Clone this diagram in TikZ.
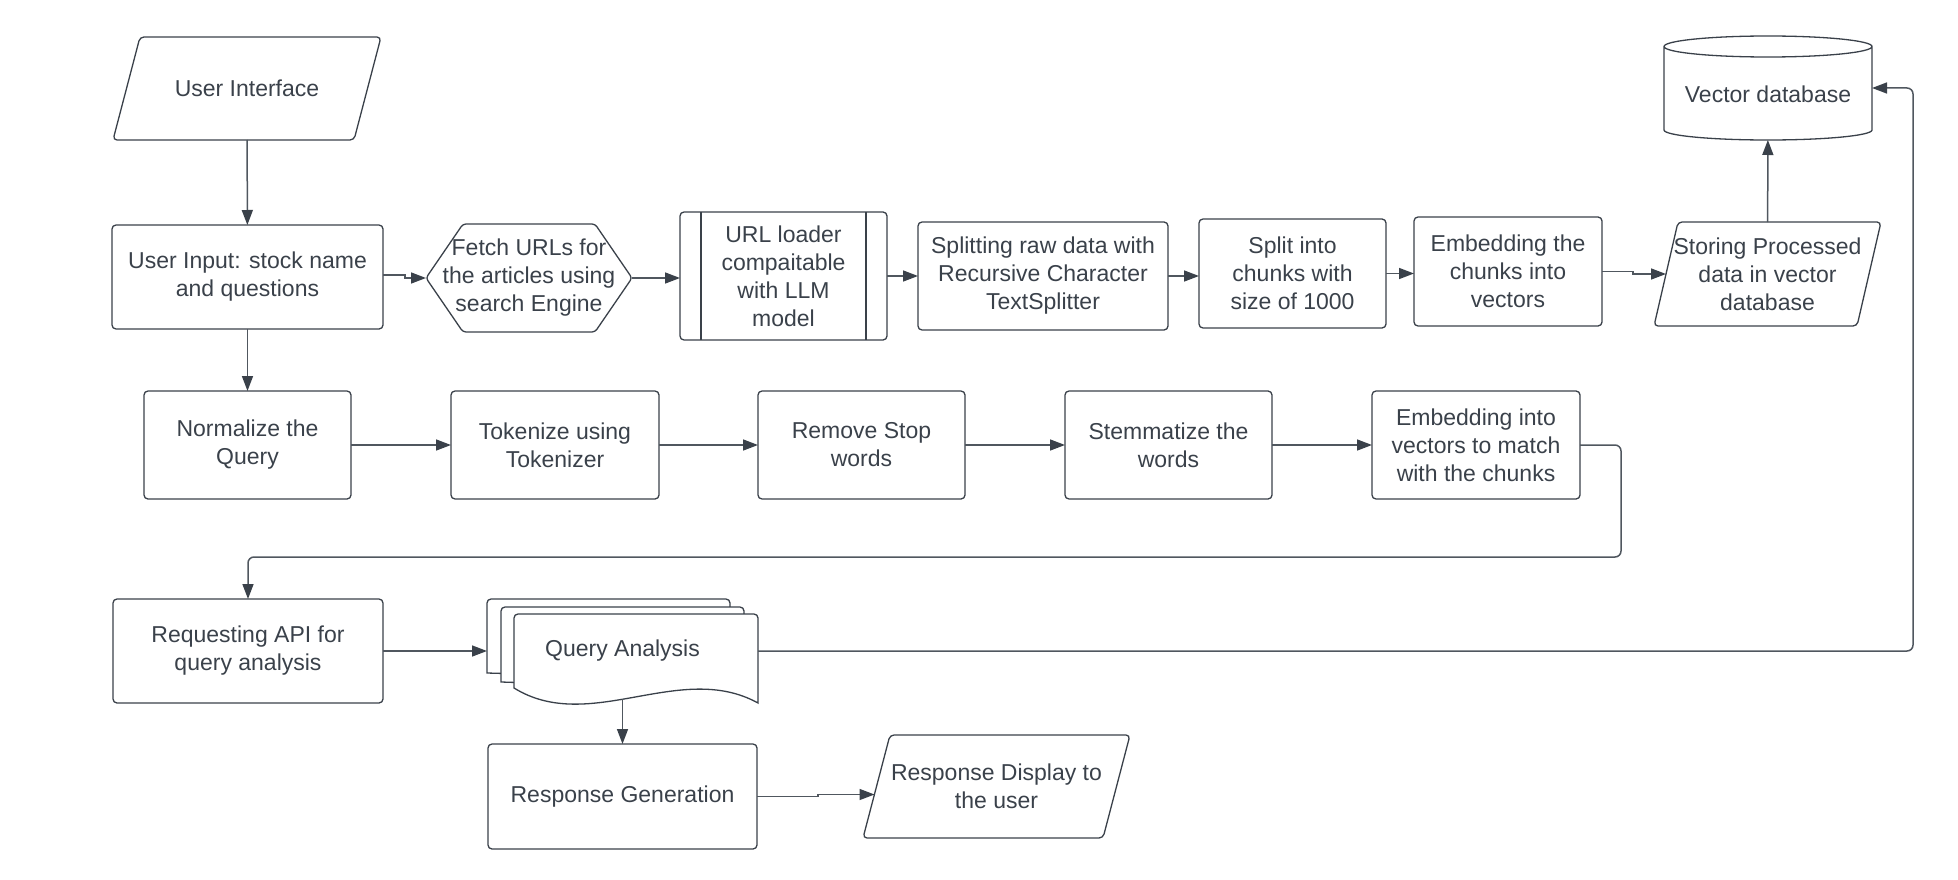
\documentclass[tikz,border=0pt]{standalone}
\usepackage{fontspec}
\setmainfont{Liberation Sans}
\usetikzlibrary{arrows.meta,calc}
\definecolor{ink}{HTML}{3A414A}
\definecolor{wire}{HTML}{50575F}
\tikzset{
  stepbox/.style={draw=ink, line width=1.3pt, rounded corners=4pt, align=center, text=ink,
    inner sep=0pt, outer sep=0pt, minimum height=108pt},
  bare/.style={align=center, text=ink, inner sep=0pt, outer sep=0pt},
  outline/.style={draw=ink, line width=1.3pt},
  sheet/.style={draw=ink, line width=1.3pt, fill=white},
  flow/.style={draw=wire, line width=1.5pt, rounded corners=6pt,
    -{Triangle[length=15pt,width=11pt,color=ink]}},
}
\begin{document}
\begin{tikzpicture}[x=1pt,y=1pt,font=\fontsize{23}{28}\selectfont]
\useasboundingbox (0,0) rectangle (1958,-880);

% top row: fetching the articles
\node[bare, minimum width=268pt, minimum height=103pt] (ui) at (247,-88.5) {User Interface};
\draw[outline, rounded corners=4pt] ([xshift=27pt]ui.north west) -- (ui.north east)
  -- ([xshift=-27pt]ui.south east) -- (ui.south west) -- cycle;
\node[stepbox, minimum width=271pt, minimum height=104pt] (inp) at (247.5,-277) {User Input: stock name\\and questions};
\node[bare, minimum width=206pt, minimum height=108pt] (fetch) at (529,-278) {Fetch URLs for\\the articles using\\search Engine};
\draw[outline, rounded corners=3pt] (fetch.west) -- ([xshift=37pt]fetch.north west) -- ([xshift=-37pt]fetch.north east)
  -- (fetch.east) -- ([xshift=-37pt]fetch.south east) -- ([xshift=37pt]fetch.south west) -- cycle;
\node[stepbox, minimum width=207pt, minimum height=128pt] (url) at (783.5,-276) {URL loader\\compaitable\\with LLM\\model};
\draw[outline] ([xshift=21pt]url.north west) -- ([xshift=21pt]url.south west)
  ([xshift=-21pt]url.north east) -- ([xshift=-21pt]url.south east);
\node[stepbox, minimum width=250pt] (split) at (1043,-276) {Splitting raw data with\\Recursive Character\\TextSplitter};
\node[stepbox, minimum width=187pt, minimum height=109pt] (chunk) at (1292.5,-273.5) {Split into\\chunks with\\size of 1000};
\node[stepbox, minimum width=188pt, minimum height=109pt] (emb) at (1508,-271.5) {Embedding the\\chunks into\\vectors};
\node[bare, minimum width=227pt, minimum height=104pt] (store) at (1767.5,-274) {Storing Processed\\data in vector\\database};
\draw[outline, rounded corners=4pt] ([xshift=24pt]store.north west) -- (store.north east)
  -- ([xshift=-24pt]store.south east) -- (store.south west) -- cycle;

% vector database
\node[bare, minimum width=208pt, minimum height=104pt] (vdb) at (1768,-88) {};
\draw[outline] ([yshift=-10.5pt]vdb.north west) -- ([yshift=10pt]vdb.south west)
  arc[start angle=180, end angle=360, x radius=104pt, y radius=10pt]
  -- ([yshift=-10.5pt]vdb.north east)
  arc[start angle=0, end angle=180, x radius=104pt, y radius=10.5pt]
  arc[start angle=180, end angle=360, x radius=104pt, y radius=10.5pt];
\node[bare, text height=29pt, text depth=0pt] (vdbtext) at (vdb) {Vector database};

% second row: query processing
\node[stepbox, minimum width=207pt] (norm) at (247.5,-445) {Normalize the\\Query};
\node[stepbox, minimum width=208pt] (tok) at (555,-445) {Tokenize using\\Tokenizer};
\node[stepbox, minimum width=207pt] (stop) at (861.5,-445) {Remove Stop\\words};
\node[stepbox, minimum width=207pt] (stem) at (1168.5,-445) {Stemmatize the\\words};
\node[stepbox, minimum width=208pt] (embq) at (1476,-445) {Embedding into\\vectors to match\\with the chunks};

% third row
\node[stepbox, minimum width=270pt, minimum height=104pt] (req) at (248,-651) {Requesting API for\\query analysis};
\draw[sheet] (487,-673) [rounded corners=4pt]-- (487,-599) -- (730,-599) [sharp corners]-- (730,-680) -- cycle;
\draw[sheet] (501,-682) [rounded corners=4pt]-- (501,-607) -- (744,-607) [sharp corners]-- (744,-690) -- cycle;
\draw[sheet] (514,-688) [rounded corners=4pt]-- (514,-614) -- (758,-614) [sharp corners]-- (758,-703)
  .. controls (680,-660) and (590,-735) .. (514,-688) -- cycle;
\node[bare, minimum width=271pt, minimum height=104pt] (qa) at (622.5,-651) {Query Analysis};
\node[stepbox, minimum width=269pt, minimum height=105pt] (gen) at (622.5,-796.5) {Response Generation};
\node[bare, minimum width=267pt, minimum height=103pt] (disp) at (996.5,-786.5) {Response Display to\\the user};
\draw[outline, rounded corners=4pt] ([xshift=27pt]disp.north west) -- (disp.north east)
  -- ([xshift=-27pt]disp.south east) -- (disp.south west) -- cycle;

% connectors
\draw[flow] (ui) -- (inp);
\draw[flow, sharp corners] ([yshift=2pt]inp.east) -- ++(22,0) |- (fetch.west);
\draw[flow] (fetch.east) -- (fetch.east -| url.west);
\draw[flow] (url.east) -- (url.east -| split.west);
\draw[flow] (split.east) -- (split.east -| chunk.west);
\draw[flow] (chunk.east) -- (chunk.east -| emb.west);
\draw[flow, sharp corners] (emb.east) -- ++(31,0) |- ([xshift=12pt]store.west);
\draw[flow] (store) -- (vdb);
\draw[flow] (inp) -- (norm);
\draw[flow] (norm) -- (tok);
\draw[flow] (tok) -- (stop);
\draw[flow] (stop) -- (stem);
\draw[flow] (stem) -- (embq);
\draw[flow] (embq.east) -- ++(41,0) -- ++(0,-112) -| (req.north);
\draw[flow] (req.east) -- (qa.west);
\draw[flow] (qa.east) -| ([xshift=41pt]vdb.east) -- (vdb.east);
\draw[flow] ([yshift=4pt]qa.south) -- (gen.north);
\draw[flow, sharp corners] (gen.east) -- ++(61,0) |- ([shift={(11.5pt,-8pt)}]disp.west);
\end{tikzpicture}
\end{document}
